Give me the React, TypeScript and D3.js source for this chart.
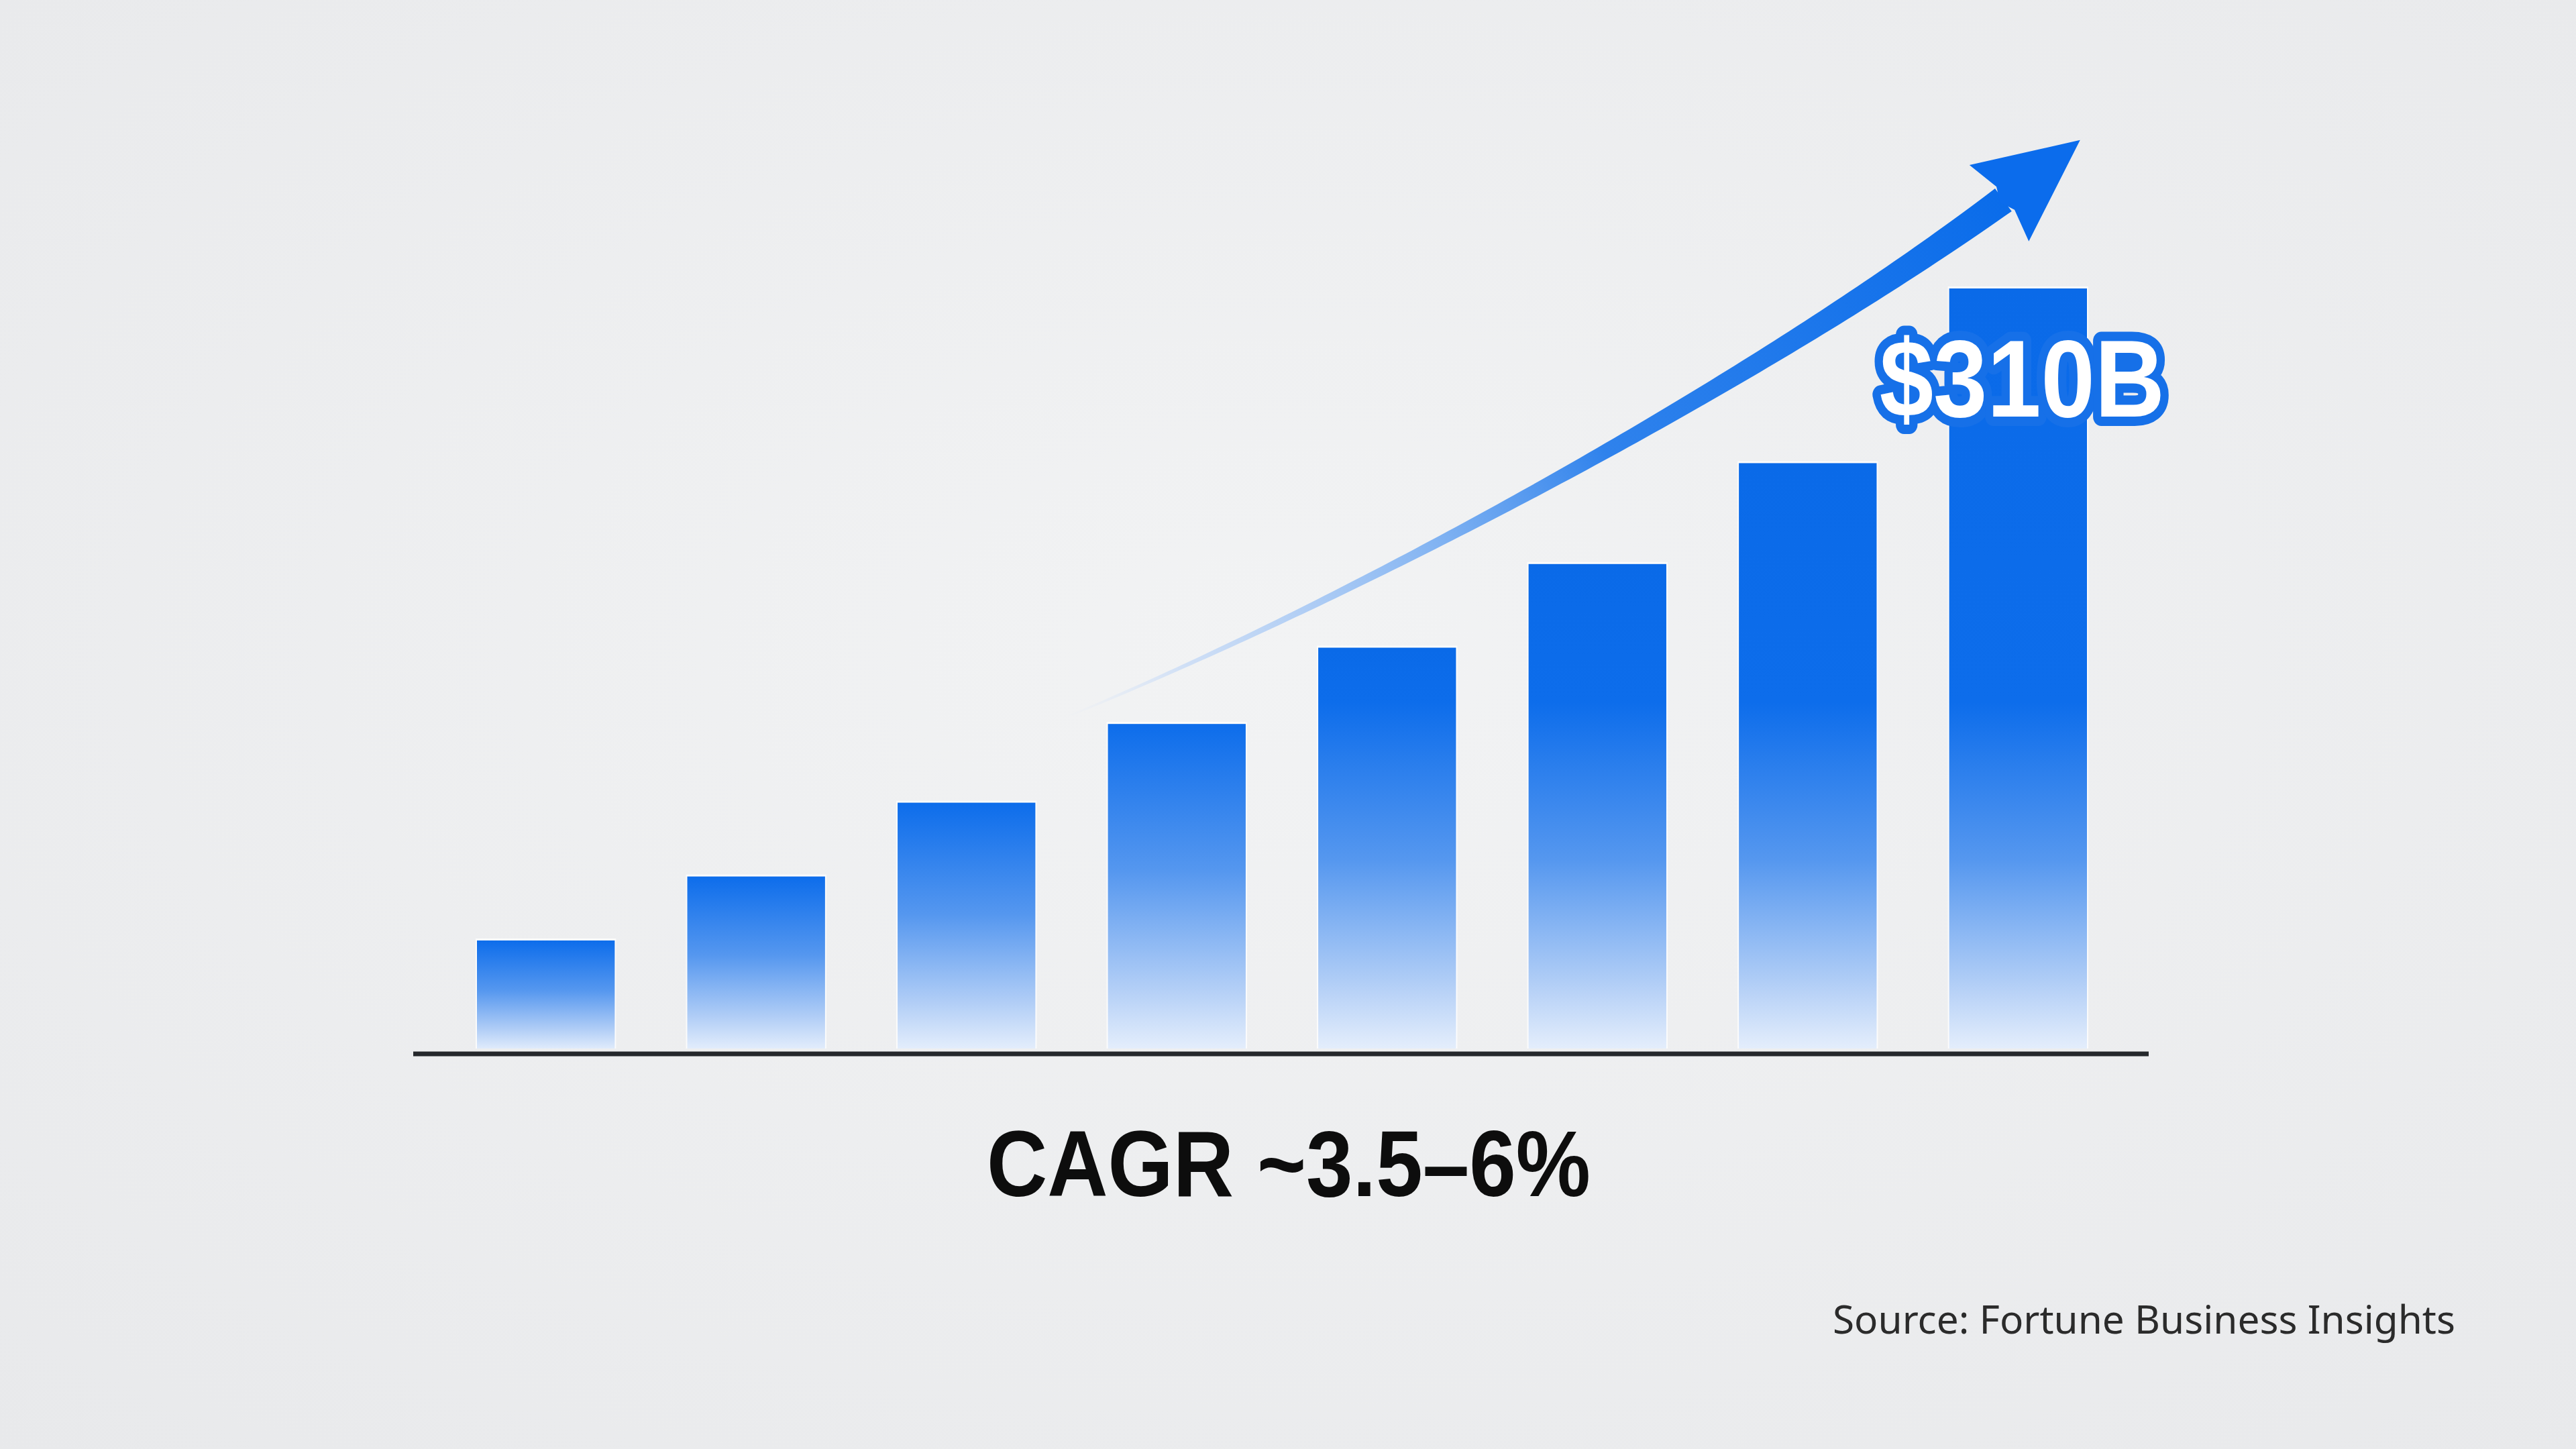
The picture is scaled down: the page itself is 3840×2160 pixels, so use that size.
import React from "react";
import * as d3 from "d3";

// ---- data ----
const categories = ["P1", "P2", "P3", "P4", "P5", "P6", "P7", "P8"];
const marketValues = [45, 71, 101, 133, 164, 198, 239, 310]; // $B, last bar labelled
const valueLabel = "$310B";
const cagrLabel = "CAGR ~3.5–6%";
const sourceLabel = "Source: Fortune Business Insights";
// trend arrow as cubic Bezier control points in data space (bar index, value)
const arrowCurve = [
  { pos: 2.48, value: 136 },
  { pos: 3.79, value: 182 },
  { pos: 5.7, value: 269 },
  { pos: 6.93, value: 346 },
];

const W = 3840;
const H = 2160;

export default function App() {
  const x = d3
    .scaleBand<string>()
    .domain(categories)
    .range([711, 3111])
    .paddingInner(0.345)
    .paddingOuter(0);
  const bw = x.bandwidth();
  const y = d3.scaleLinear().domain([0, 310]).range([1567, 430]);
  const xPos = d3
    .scaleLinear()
    .domain([0, categories.length - 1])
    .range([
      (x(categories[0]) as number) + bw / 2,
      (x(categories[categories.length - 1]) as number) + bw / 2,
    ]);

  // --- arrow geometry ---
  const P = arrowCurve.map((d) => [xPos(d.pos), y(d.value)]);
  const bez = (t: number) => {
    const mt = 1 - t;
    const a = mt * mt * mt, b = 3 * mt * mt * t, c = 3 * mt * t * t, e = t * t * t;
    return [
      a * P[0][0] + b * P[1][0] + c * P[2][0] + e * P[3][0],
      a * P[0][1] + b * P[1][1] + c * P[2][1] + e * P[3][1],
    ];
  };
  const dbez = (t: number) => {
    const mt = 1 - t;
    return [0, 1].map(
      (k) =>
        3 * mt * mt * (P[1][k] - P[0][k]) +
        6 * mt * t * (P[2][k] - P[1][k]) +
        3 * t * t * (P[3][k] - P[2][k])
    );
  };
  const N = 120;
  const left: [number, number][] = [];
  const right: [number, number][] = [];
  for (let i = 0; i <= N; i++) {
    const t = i / N;
    const p = bez(t);
    const d = dbez(t);
    const len = Math.hypot(d[0], d[1]);
    const nx = -d[1] / len, ny = d[0] / len;
    const w = (3 + 39 * Math.pow(t, 1.3)) / 2;
    left.push([p[0] + nx * w, p[1] + ny * w]);
    right.push([p[0] - nx * w, p[1] - ny * w]);
  }
  const shaftPts = left.concat(right.reverse());
  const shaftPath = d3.line()(shaftPts) + "Z";

  const end = P[3];
  const tipDir = [0.777, -0.63];
  const dEnd = dbez(1);
  const dl = Math.hypot(dEnd[0], dEnd[1]);
  let u = [dEnd[0] / dl * 0.4 + tipDir[0] * 0.6, dEnd[1] / dl * 0.4 + tipDir[1] * 0.6];
  const ul = Math.hypot(u[0], u[1]);
  u = [u[0] / ul, u[1] / ul];
  const n = [-u[1], u[0]];
  const pt = (a: number, b: number): [number, number] => [
    end[0] + u[0] * a + n[0] * b,
    end[1] + u[1] * a + n[1] * b,
  ];
  const headPath =
    d3.line()([pt(145, 0), pt(-8, 72), pt(4, 22), pt(-6, 0), pt(4, -22), pt(-8, -72)]) + "Z";

  const lastCat = categories[categories.length - 1];
  const lastCenter = (x(lastCat) as number) + bw / 2;
  const labelX = lastCenter + 6;
  const labelY = y(310) + 191;

  const labelProps = {
    x: 0,
    y: 0,
    textAnchor: "middle" as const,
    fontFamily: "'Liberation Sans', Arial, sans-serif",
    fontWeight: 700,
    fontSize: 164,
  };

  return (
    <svg
      width={W}
      height={H}
      viewBox={`0 0 ${W} ${H}`}
      style={{ position: "absolute", left: 0, top: 0, display: "block" }}
    >
      <defs>
        <radialGradient id="bg" cx="50%" cy="45%" r="75%">
          <stop offset="0" stopColor="#f2f3f4" />
          <stop offset="1" stopColor="#e8e9eb" />
        </radialGradient>
        {categories.map((c, i) => {
          const top = y(marketValues[i]);
          const bottom = y(0);
          const h = bottom - top;
          const s = Math.max(0, 1 - 520 / h);
          return (
            <linearGradient
              key={c}
              id={`bar${i}`}
              gradientUnits="userSpaceOnUse"
              x1={0}
              x2={0}
              y1={top}
              y2={bottom}
            >
              <stop offset={0} stopColor="#0a6ae8" />
              <stop offset={s} stopColor="#0d6deb" />
              <stop offset={s + 0.45 * (1 - s)} stopColor="#5597ef" />
              <stop offset={s + 0.8 * (1 - s)} stopColor="#b0cdf6" />
              <stop offset={1} stopColor="#e6effc" />
            </linearGradient>
          );
        })}
        <linearGradient
          id="arrowGrad"
          gradientUnits="userSpaceOnUse"
          x1={P[0][0]}
          y1={P[0][1]}
          x2={P[3][0]}
          y2={P[3][1]}
        >
          <stop offset="0" stopColor="#cfe0fa" stopOpacity="0" />
          <stop offset="0.12" stopColor="#b8d2f7" stopOpacity="0.6" />
          <stop offset="0.38" stopColor="#7cb0f2" stopOpacity="0.95" />
          <stop offset="0.56" stopColor="#2f82ec" />
          <stop offset="1" stopColor="#0a6cea" />
        </linearGradient>
      </defs>

      <rect x={0} y={0} width={W} height={H} fill="url(#bg)" />

      {/* bars */}
      {categories.map((c, i) => {
        const x0 = x(c) as number;
        const top = y(marketValues[i]);
        const h = y(0) - top - 4;
        return (
          <g key={c}>
            <rect x={x0 - 2} y={top - 3} width={bw + 4} height={h + 3} fill="#ffffff" opacity={0.75} />
            <rect x={x0} y={top} width={bw} height={h} fill={`url(#bar${i})`} />
          </g>
        );
      })}

      {/* baseline */}
      <line x1={616} x2={3203} y1={y(0) + 4} y2={y(0) + 4} stroke="#25282c" strokeWidth={7} />

      {/* trend arrow */}
      <path d={shaftPath} fill="url(#arrowGrad)" />
      <path d={headPath} fill="#0b6cec" />

      {/* value label: outline then fill, horizontally condensed */}
      <g transform={`translate(${labelX},${labelY}) scale(0.88,1)`}>
        <text
          {...labelProps}
          fill="#1670e8"
          stroke="#1670e8"
          strokeWidth={28}
          strokeLinejoin="round"
        >
          {valueLabel}
        </text>
        <text {...labelProps} fill="#ffffff">
          {valueLabel}
        </text>
      </g>

      {/* CAGR */}
      <text
        x={1921}
        y={1783}
        textAnchor="middle"
        fontFamily="'Liberation Sans', Arial, sans-serif"
        fontWeight={700}
        fontSize={139}
        textLength={900}
        lengthAdjust="spacingAndGlyphs"
        fill="#0d0d0d"
      >
        {cagrLabel}
      </text>

      {/* source */}
      <text
        x={3660}
        y={1988}
        textAnchor="end"
        fontFamily="'Noto Sans', sans-serif"
        fontSize={58}
        textLength={928}
        lengthAdjust="spacingAndGlyphs"
        fill="#2b2b2b"
      >
        {sourceLabel}
      </text>
    </svg>
  );
}
